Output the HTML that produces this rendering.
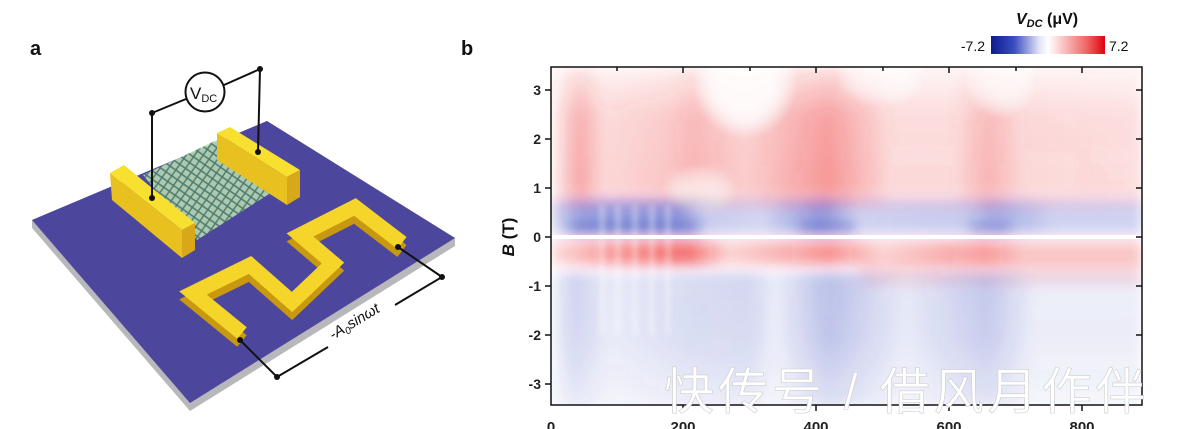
<!DOCTYPE html>
<html><head><meta charset="utf-8"><style>
html,body{margin:0;padding:0;background:#fff;}
body{width:1198px;height:429px;overflow:hidden;position:relative;font-family:"Liberation Sans",sans-serif;}
</style></head><body>
<svg width="1198" height="429" viewBox="0 0 1198 429" xmlns="http://www.w3.org/2000/svg" style="position:absolute;left:0;top:0">
<defs>
<filter id="bl" x="-10%" y="-30%" width="120%" height="160%"><feGaussianBlur stdDeviation="6"/></filter>
<filter id="bl2" x="-10%" y="-30%" width="120%" height="160%"><feGaussianBlur stdDeviation="3"/></filter>
<linearGradient id="cb" x1="0" x2="1" y1="0" y2="0">
<stop offset="0" stop-color="#101a90"/><stop offset="0.2" stop-color="#3a4cc0"/><stop offset="0.42" stop-color="#dfe3f8"/>
<stop offset="0.5" stop-color="#ffffff"/><stop offset="0.6" stop-color="#fbd3d3"/><stop offset="0.85" stop-color="#f06060"/><stop offset="1" stop-color="#e00010"/></linearGradient>
<linearGradient id="vfadeT" x1="0" x2="0" y1="0" y2="1">
<stop offset="0" stop-color="#fff" stop-opacity="0.3"/><stop offset="0.35" stop-color="#fff" stop-opacity="0.9"/><stop offset="0.85" stop-color="#fff" stop-opacity="1"/><stop offset="1" stop-color="#fff" stop-opacity="0.6"/></linearGradient>
<mask id="mT"><rect x="551" y="67" width="591" height="140" fill="url(#vfadeT)"/></mask>
<linearGradient id="vfadeB" x1="0" x2="0" y1="0" y2="1">
<stop offset="0" stop-color="#fff" stop-opacity="1"/><stop offset="0.5" stop-color="#fff" stop-opacity="0.9"/><stop offset="1" stop-color="#fff" stop-opacity="0.45"/></linearGradient>
<mask id="mB"><rect x="551" y="268" width="591" height="140" fill="url(#vfadeB)"/></mask>
<linearGradient id="redTop" x1="550" x2="1142" gradientUnits="userSpaceOnUse">
<stop offset="0" stop-color="#e33" stop-opacity="0.04"/>
<stop offset="0.05" stop-color="#e33" stop-opacity="0.45"/>
<stop offset="0.09" stop-color="#e33" stop-opacity="0.2"/>
<stop offset="0.2" stop-color="#e33" stop-opacity="0.28"/>
<stop offset="0.24" stop-color="#e33" stop-opacity="0.38"/>
<stop offset="0.33" stop-color="#e33" stop-opacity="0.24"/>
<stop offset="0.47" stop-color="#e33" stop-opacity="0.52"/>
<stop offset="0.58" stop-color="#e33" stop-opacity="0.18"/>
<stop offset="0.68" stop-color="#e33" stop-opacity="0.18"/>
<stop offset="0.74" stop-color="#e33" stop-opacity="0.38"/>
<stop offset="0.8" stop-color="#e33" stop-opacity="0.2"/>
<stop offset="1" stop-color="#e33" stop-opacity="0.17"/></linearGradient>
<linearGradient id="blueMid" x1="550" x2="1142" gradientUnits="userSpaceOnUse">
<stop offset="0" stop-color="#2233bb" stop-opacity="0.15"/>
<stop offset="0.05" stop-color="#2233bb" stop-opacity="0.45"/>
<stop offset="0.22" stop-color="#2233bb" stop-opacity="0.5"/>
<stop offset="0.26" stop-color="#2233bb" stop-opacity="0.25"/>
<stop offset="0.36" stop-color="#2233bb" stop-opacity="0.2"/>
<stop offset="0.46" stop-color="#2233bb" stop-opacity="0.5"/>
<stop offset="0.52" stop-color="#2233bb" stop-opacity="0.22"/>
<stop offset="0.7" stop-color="#2233bb" stop-opacity="0.25"/>
<stop offset="0.75" stop-color="#2233bb" stop-opacity="0.4"/>
<stop offset="0.85" stop-color="#2233bb" stop-opacity="0.22"/>
<stop offset="1" stop-color="#2233bb" stop-opacity="0.22"/></linearGradient>
<linearGradient id="redMid" x1="550" x2="1142" gradientUnits="userSpaceOnUse">
<stop offset="0" stop-color="#e22" stop-opacity="0.15"/>
<stop offset="0.1" stop-color="#e22" stop-opacity="0.45"/>
<stop offset="0.23" stop-color="#e22" stop-opacity="0.65"/>
<stop offset="0.3" stop-color="#e22" stop-opacity="0.2"/>
<stop offset="0.4" stop-color="#e22" stop-opacity="0.35"/>
<stop offset="0.47" stop-color="#e22" stop-opacity="0.5"/>
<stop offset="0.56" stop-color="#e22" stop-opacity="0.2"/>
<stop offset="0.74" stop-color="#e22" stop-opacity="0.45"/>
<stop offset="0.8" stop-color="#e22" stop-opacity="0.25"/>
<stop offset="1" stop-color="#e22" stop-opacity="0.25"/></linearGradient>
<linearGradient id="blueLow" x1="550" x2="1142" gradientUnits="userSpaceOnUse">
<stop offset="0" stop-color="#3344bb" stop-opacity="0.05"/>
<stop offset="0.04" stop-color="#3344bb" stop-opacity="0.25"/>
<stop offset="0.1" stop-color="#3344bb" stop-opacity="0.12"/>
<stop offset="0.24" stop-color="#3344bb" stop-opacity="0.2"/>
<stop offset="0.34" stop-color="#3344bb" stop-opacity="0.22"/>
<stop offset="0.38" stop-color="#3344bb" stop-opacity="0.1"/>
<stop offset="0.47" stop-color="#3344bb" stop-opacity="0.35"/>
<stop offset="0.6" stop-color="#3344bb" stop-opacity="0.12"/>
<stop offset="0.74" stop-color="#3344bb" stop-opacity="0.3"/>
<stop offset="0.82" stop-color="#3344bb" stop-opacity="0.1"/>
<stop offset="1" stop-color="#3344bb" stop-opacity="0.1"/></linearGradient>
<pattern id="mesh" width="7" height="7" patternUnits="userSpaceOnUse" patternTransform="rotate(35)">
<rect width="7" height="7" fill="#b9d9b0"/><path d="M0 3.5H7M3.5 0V7" stroke="#4a7f6a" stroke-width="1.4"/></pattern>
</defs>

<text x="30" y="55" font-size="20" font-weight="bold" fill="#111">a</text>
<polygon points="32,220 267,121 455,238 455,246 190,411 32,228" fill="#b8b8bc"/>
<polygon points="32,220 267,121 455,238 190,403" fill="#4c479c"/>
<polygon points="143,175 217,140 280,187 197,240" fill="url(#mesh)" opacity="0.9"/>
<polygon points="110,173 182,230 182,258 112,200" fill="#e8c020"/>
<polygon points="110,173 124,165 195,223 182,230" fill="#f8e030"/>
<polygon points="182,230 195,223 195,250 182,258" fill="#d8a818"/>
<polygon points="217,133 287,177 287,205 217,160" fill="#e8c020"/>
<polygon points="217,133 230,127 300,170 287,177" fill="#f8e030"/>
<polygon points="287,177 300,170 300,197 287,205" fill="#d8a818"/>
<polyline points="242,341 193,301 250,273 292,310 333,271 300,243 355,215 402,251" fill="none" stroke="#c89810" stroke-width="15" stroke-linejoin="miter"/>
<polyline points="242,333 193,293 250,265 292,302 333,263 300,235 355,207 402,243" fill="none" stroke="#f5d52a" stroke-width="15" stroke-linejoin="miter"/>
<g stroke="#111" stroke-width="2" fill="none">
<polyline points="152,198 152,113 186,99"/>
<polyline points="258,152 260,69 224,85"/>
<circle cx="205" cy="92" r="19.5" fill="#fff"/>
<polyline points="398,247 442,277 395,305"/>
<polyline points="328,347 277,377 240,340"/>
</g>
<g fill="#111"><circle cx="152" cy="113" r="3"/><circle cx="260" cy="69" r="3"/><circle cx="152" cy="198" r="3"/><circle cx="258" cy="152" r="3"/><circle cx="398" cy="247" r="3"/><circle cx="442" cy="277" r="3"/><circle cx="277" cy="377" r="3"/><circle cx="240" cy="340" r="3"/></g>
<text x="190" y="99" font-size="17" fill="#111">V<tspan font-size="11" dy="3">DC</tspan></text>
<text transform="translate(333,340) rotate(-31)" font-size="15" fill="#111" font-style="italic">-A<tspan font-size="10" dy="3">0</tspan><tspan dy="-3">sinωt</tspan></text>

<text x="461" y="55" font-size="20" font-weight="bold" fill="#111">b</text>
<svg x="551" y="67" width="591" height="338" viewBox="551 67 591 338" overflow="hidden">
<rect x="551" y="67" width="591" height="338" fill="#fff"/>
<g filter="url(#bl)">
<g mask="url(#mT)"><rect x="551" y="67" width="591" height="140" fill="url(#redTop)"/></g>
<ellipse cx="745" cy="85" rx="38" ry="40" fill="#fff" opacity="0.85"/>
<ellipse cx="1000" cy="80" rx="22" ry="25" fill="#fff" opacity="0.7"/>
<ellipse cx="880" cy="78" rx="30" ry="15" fill="#fff" opacity="0.6"/>
<ellipse cx="700" cy="190" rx="25" ry="14" fill="#fff" opacity="0.6"/>
<rect x="551" y="200" width="591" height="34" fill="url(#blueMid)"/>
<rect x="570" y="223" width="130" height="11" fill="#1a2aa8" opacity="0.35"/>
<rect x="800" y="223" width="55" height="11" fill="#1a2aa8" opacity="0.3"/>
<rect x="970" y="223" width="40" height="11" fill="#1a2aa8" opacity="0.25"/>
<rect x="551" y="241" width="591" height="24" fill="url(#redMid)"/>
<rect x="860" y="262" width="282" height="22" fill="#e33" opacity="0.14"/>
<g mask="url(#mB)"><rect x="551" y="272" width="591" height="136" fill="url(#blueLow)"/></g>
</g>
<g filter="url(#bl2)" fill="#fff" opacity="0.45">
<rect x="600" y="205" width="4" height="130"/><rect x="616" y="205" width="4" height="130"/>
<rect x="633" y="205" width="4" height="130"/><rect x="650" y="205" width="4" height="130"/>
<rect x="666" y="205" width="4" height="130"/>
</g>
<rect x="551" y="235" width="591" height="4" fill="#fff"/>
</svg>
<rect x="551" y="67" width="591" height="338" fill="none" stroke="#111" stroke-width="1.5"/>
<g stroke="#111" stroke-width="1.5">
<line x1="545" y1="90" x2="551" y2="90"/><line x1="545" y1="139" x2="551" y2="139"/><line x1="545" y1="188" x2="551" y2="188"/>
<line x1="545" y1="237" x2="551" y2="237"/><line x1="545" y1="286" x2="551" y2="286"/><line x1="545" y1="335" x2="551" y2="335"/><line x1="545" y1="384" x2="551" y2="384"/>
<line x1="1136" y1="90" x2="1142" y2="90"/><line x1="1136" y1="139" x2="1142" y2="139"/><line x1="1136" y1="188" x2="1142" y2="188"/>
<line x1="1136" y1="237" x2="1142" y2="237"/><line x1="1136" y1="286" x2="1142" y2="286"/><line x1="1136" y1="335" x2="1142" y2="335"/><line x1="1136" y1="384" x2="1142" y2="384"/>
<line x1="683" y1="67" x2="683" y2="73"/><line x1="816" y1="67" x2="816" y2="73"/><line x1="949" y1="67" x2="949" y2="73"/><line x1="1082" y1="67" x2="1082" y2="73"/>
<line x1="617" y1="67" x2="617" y2="71"/><line x1="750" y1="67" x2="750" y2="71"/><line x1="883" y1="67" x2="883" y2="71"/><line x1="1016" y1="67" x2="1016" y2="71"/>
<line x1="683" y1="405" x2="683" y2="411"/><line x1="816" y1="405" x2="816" y2="411"/><line x1="949" y1="405" x2="949" y2="411"/><line x1="1082" y1="405" x2="1082" y2="411"/>
</g>
<g font-size="14" font-weight="bold" fill="#222" text-anchor="end">
<text x="541" y="95">3</text><text x="541" y="144">2</text><text x="541" y="193">1</text><text x="541" y="242">0</text>
<text x="541" y="291">-1</text><text x="541" y="340">-2</text><text x="541" y="389">-3</text></g>
<g font-size="15" font-weight="bold" fill="#222" text-anchor="middle">
<text x="551" y="432">0</text><text x="683" y="432">200</text><text x="816" y="432">400</text><text x="949" y="432">600</text><text x="1082" y="432">800</text></g>
<text transform="translate(514,237) rotate(-90)" font-size="17" font-weight="bold" fill="#111" text-anchor="middle"><tspan font-style="italic">B</tspan> (T)</text>

<rect x="991" y="36" width="114" height="18" fill="url(#cb)"/>
<text x="985" y="51" font-size="14" fill="#111" text-anchor="end">-7.2</text>
<text x="1109" y="51" font-size="14" fill="#111">7.2</text>
<text x="1016" y="24" font-size="16" font-weight="bold" fill="#111"><tspan font-style="italic">V</tspan><tspan font-size="11" dy="3" font-style="italic">DC</tspan><tspan dy="-3"> (μV)</tspan></text>

<text x="664" y="409" font-family="'Liberation Sans','Noto Sans CJK SC',sans-serif" font-size="50" fill="#fff" stroke="#ccc" stroke-width="0.6" letter-spacing="4">快传号 / 借风月作伴</text>
</svg>
</body></html>
